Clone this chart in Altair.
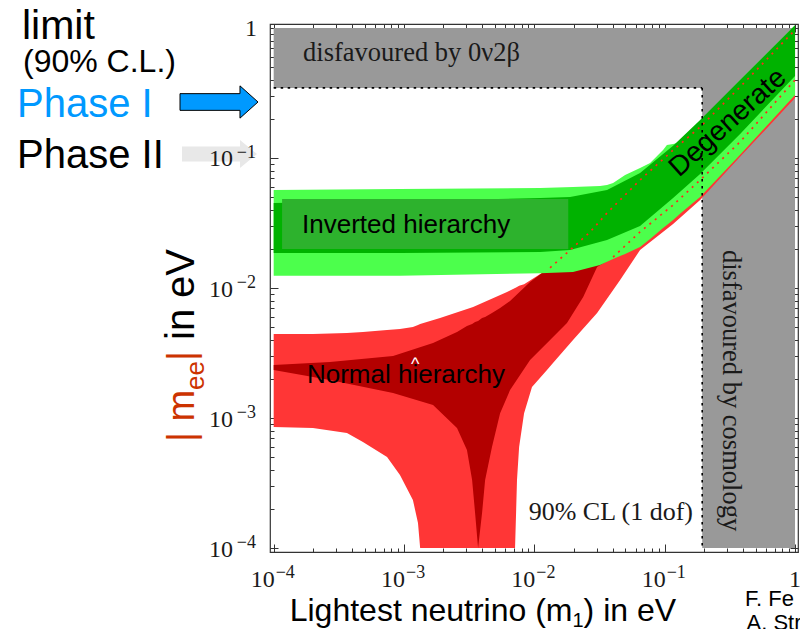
import altair as alt
import pandas as pd

# ---------------- data ----------------
# Normal hierarchy, light red (3 sigma) band
nh3_x = [1.0e-4, 2.0e-4, 3.65e-4, 4.84e-4, 7.41e-4, 9.31e-4, 1.17e-3, 1.28e-3, 1.33e-3, 1.89e-3,
         3.39e-3, 6.17e-3, 7.11e-3, 7.24e-3, 7.36e-3, 7.64e-3, 8.34e-3, 9.59e-3, 1.25e-2, 1.39e-2,
         1.98e-2, 3.03e-2, 4.55e-2, 6.47e-2, 0.116, 0.187, 0.379, 1.0]
nh3_hi = [4.43e-3, 4.43e-3, 4.51e-3, 4.59e-3, 4.75e-3, 4.84e-3, 5.01e-3, 5.19e-3, 5.28e-3, 5.88e-3,
          7.14e-3, 9.32e-3, 1.00e-2, 1.01e-2, 1.02e-2, 1.04e-2, 1.07e-2, 1.17e-2, 1.38e-2, 1.50e-2,
          2.03e-2, 3.11e-2, 4.75e-2, 6.77e-2, 0.115, 0.173, 0.352, 0.965]
nh3_lo = [8.53e-4, 8.38e-4, 7.66e-4, 6.54e-4, 5.01e-4, 3.64e-4, 2.34e-4, 1.56e-4, 1.0e-4, 1.0e-4,
          1.0e-4, 1.0e-4, 1.0e-4, 1.86e-4, 3.34e-4, 5.98e-4, 1.09e-3, 1.73e-3, 2.34e-3, 2.65e-3,
          3.98e-3, 6.42e-3, 1.15e-2, 1.96e-2, 3.11e-2, 4.75e-2, 0.102, 0.289]

# Normal hierarchy, dark red (best fit) band
nh1_x = [1.0e-4, 2.70e-4, 8.24e-4, 1.67e-3, 2.55e-3, 3.04e-3, 3.33e-3, 3.51e-3, 3.70e-3, 3.97e-3,
         4.19e-3, 4.73e-3, 5.46e-3, 6.51e-3, 9.27e-3, 1.32e-2, 1.78e-2, 2.37e-2, 3.03e-2, 4.32e-2,
         6.47e-2, 0.116, 0.187, 0.379, 1.0]
nh1_hi = [2.56e-3, 2.70e-3, 3.00e-3, 3.77e-3, 4.59e-3, 5.10e-3, 5.28e-3, 5.48e-3, 5.57e-3, 5.88e-3,
          5.98e-3, 6.42e-3, 7.02e-3, 7.94e-3, 1.11e-2, 1.45e-2, 1.86e-2, 2.42e-2, 3.11e-2, 4.51e-2,
          6.77e-2, 0.115, 0.173, 0.352, 0.965]
nh1_lo = [2.34e-3, 1.96e-3, 1.56e-3, 1.26e-3, 8.38e-4, 5.67e-4, 3.34e-4, 1.86e-4, 1.0e-4, 1.86e-4,
          3.34e-4, 5.98e-4, 1.09e-3, 1.64e-3, 2.79e-3, 3.98e-3, 5.38e-3, 8.53e-3, 1.45e-2, 1.79e-2,
          2.70e-2, 4.35e-2, 6.77e-2, 0.133, 0.398]

# Inverted hierarchy, light green (3 sigma) band
ih3_x = [1.0e-4, 9.31e-4, 1.11e-2, 1.98e-2, 3.19e-2, 3.61e-2, 4.02e-2, 4.97e-2, 6.47e-2, 7.73e-2,
         9.72e-2, 0.104, 0.116, 0.136, 0.187, 0.379, 1.0]
ih3_hi = [5.67e-2, 5.77e-2, 5.88e-2, 5.98e-2, 6.09e-2, 6.20e-2, 6.42e-2, 7.40e-2, 8.38e-2, 9.15e-2,
          0.115, 0.126, 0.128, 0.133, 0.189, 0.398, 1.05]
ih3_lo = [1.24e-2, 1.24e-2, 1.30e-2, 1.33e-2, 1.50e-2, 1.59e-2, 1.67e-2, 1.83e-2, 2.07e-2, 2.38e-2,
          2.89e-2, 3.05e-2, 3.34e-2, 3.84e-2, 5.01e-2, 0.106, 0.305]

# Inverted hierarchy, dark green (best fit) band
ih1_x = [1.0e-4, 9.31e-4, 1.11e-2, 1.88e-2, 3.61e-2, 6.47e-2, 0.116, 0.187, 0.379, 1.0]
ih1_hi = [4.51e-2, 4.67e-2, 4.92e-2, 5.01e-2, 5.67e-2, 7.66e-2, 0.124, 0.196, 0.398, 1.05]
ih1_lo = [1.86e-2, 1.86e-2, 1.89e-2, 1.96e-2, 2.34e-2, 3.00e-2, 4.92e-2, 7.53e-2, 0.153, 0.427]

# label box behind "Inverted hierarchy"
box_x = [1.16e-4, 1.82e-2]
box_y = [1.995e-2, 4.84e-2]

# red dotted boundaries drawn over the green band
dot_up_x = [1.32e-2, 1.88e-2, 2.68e-2, 3.61e-2, 6.47e-2, 0.116, 0.187, 0.379, 1.0]
dot_up_y = [1.43e-2, 1.96e-2, 2.70e-2, 3.77e-2, 6.77e-2, 0.115, 0.173, 0.352, 0.965]
dot_lo_x = [4.02e-2, 6.47e-2, 0.116, 0.187, 0.379, 1.0]
dot_lo_y = [1.73e-2, 2.70e-2, 4.35e-2, 6.77e-2, 0.133, 0.398]

# excluded regions
bb_limit = 0.346      # 0nu2beta bound on |m_ee|
cosmo_limit = 0.194   # cosmology bound on m1

# axis ticks / labels
major_ticks = [1e-4, 1e-3, 1e-2, 1e-1, 1.0]
minor_ticks = [m * 10.0 ** k for k in range(-4, 0) for m in range(2, 10)]
label_vals = [1e-4, 1e-3, 1e-2, 1e-1]
label_exps = ["\u22124", "\u22123", "\u22122", "\u22121"]

# ---------------- chart ----------------
W, H = 528, 528
xs = alt.Scale(type="log", domain=[9.37e-5, 1.054], nice=False)
ys = alt.Scale(type="log", domain=[9.32e-5, 1.073], nice=False)
SANS = "Liberation Sans"
SERIF = "Liberation Serif"
one = pd.DataFrame({"a": [0]})


def band(xv, lo, hi, color):
    df = pd.DataFrame({"x": xv, "lo": lo, "hi": hi})
    return alt.Chart(df).mark_area(color=color, opacity=1, clip=True).encode(
        x=alt.X("x:Q", scale=xs, axis=None),
        y=alt.Y("hi:Q", scale=ys, axis=None),
        y2="lo:Q",
    )


def rects(x1, x2, y1, y2, color):
    df = pd.DataFrame({"x1": x1, "x2": x2, "y1": y1, "y2": y2})
    return alt.Chart(df).mark_rect(color=color, opacity=1).encode(
        x=alt.X("x1:Q", scale=xs, axis=None), x2="x2:Q",
        y=alt.Y("y1:Q", scale=ys, axis=None), y2="y2:Q",
    )


def dotted(xv, yv):
    df = pd.DataFrame({"x": xv, "y": yv, "i": list(range(len(xv)))})
    return alt.Chart(df).mark_line(color="#ff2a1a", strokeDash=[2, 5], strokeWidth=1.7, clip=True).encode(
        x=alt.X("x:Q", scale=xs, axis=None),
        y=alt.Y("y:Q", scale=ys, axis=None),
        order="i:Q",
    )


def dtext(x, y, s, **kw):
    df = pd.DataFrame({"x": [x], "y": [y], "t": [s]})
    return alt.Chart(df).mark_text(**kw).encode(
        x=alt.X("x:Q", scale=xs, axis=None),
        y=alt.Y("y:Q", scale=ys, axis=None),
        text="t:N",
    )


def ptext(px, py, s, **kw):
    return alt.Chart(one).mark_text(**kw).encode(
        x=alt.value(px), y=alt.value(py), text=alt.value(s))


def xtick_layer(vals, orient, size):
    df = pd.DataFrame({"v": vals})
    return alt.Chart(df).mark_point(opacity=0).encode(
        x=alt.X("v:Q", scale=xs, axis=alt.Axis(
            orient=orient, values=vals, labels=False, domain=False, grid=False,
            ticks=True, tickSize=size, offset=-size, tickColor="#333", tickWidth=1, title=None)))


def ytick_layer(vals, orient, size):
    df = pd.DataFrame({"v": vals})
    return alt.Chart(df).mark_point(opacity=0).encode(
        y=alt.Y("v:Q", scale=ys, axis=alt.Axis(
            orient=orient, values=vals, labels=False, domain=False, grid=False,
            ticks=True, tickSize=size, offset=-size, tickColor="#333", tickWidth=1, title=None)))


gray = rects([1e-4, cosmo_limit], [1.0, 1.0], [bb_limit, 1e-4], [1.0, 1.0], "#999999")
nh3 = band(nh3_x, nh3_lo, nh3_hi, "#ff3636")
nh1 = band(nh1_x, nh1_lo, nh1_hi, "#b30000")
ih3 = band(ih3_x, ih3_lo, ih3_hi, "#4cff4c")
ih1 = band(ih1_x, ih1_lo, ih1_hi, "#00b200")
box = rects([box_x[0]], [box_x[1]], [box_y[0]], [box_y[1]], "#2db22d")
dots = dotted(dot_up_x, dot_up_y) + dotted(dot_lo_x, dot_lo_y)

lim_df = pd.DataFrame({"x1": [1e-4, cosmo_limit], "x2": [cosmo_limit, cosmo_limit],
                       "y1": [bb_limit, bb_limit], "y2": [bb_limit, 1e-4]})
limits = alt.Chart(lim_df).mark_rule(color="black", strokeDash=[2.5, 4.5], strokeWidth=1.6).encode(
    x=alt.X("x1:Q", scale=xs, axis=None), x2="x2:Q",
    y=alt.Y("y1:Q", scale=ys, axis=None), y2="y2:Q")

inner_text = [
    dtext(1.68e-4, 0.557, "disfavoured by 0\u03bd2\u03b2", font=SERIF, fontSize=26.5, color="#1a1a1a",
          align="left", baseline="alphabetic"),
    dtext(0.281, 1.96e-2, "disfavoured by cosmology", font=SERIF, fontSize=26.5, color="#1a1a1a",
          align="left", baseline="alphabetic", angle=90),
    dtext(0.165, 1.64e-4, "90% CL (1 dof)", font=SERIF, fontSize=26, color="#1a1a1a",
          align="right", baseline="alphabetic"),
    dtext(1.65e-4, 2.65e-2, "Inverted hierarchy", font=SANS, fontSize=26, color="black",
          align="left", baseline="alphabetic"),
    dtext(1.22e-3, 2.36e-3, "^", font=SANS, fontSize=18, color="white",
          align="center", baseline="alphabetic"),
    dtext(1.80e-4, 1.86e-3, "Normal hierarchy", font=SANS, fontSize=26, color="black",
          align="left", baseline="alphabetic"),
    dtext(0.306, 0.186, "Degenerate", font=SANS, fontSize=28, color="black",
          align="center", baseline="middle", angle=318),
]

ticks = [
    xtick_layer(major_ticks, "bottom", 8), xtick_layer(minor_ticks, "bottom", 4),
    xtick_layer(major_ticks, "top", 8), xtick_layer(minor_ticks, "top", 4),
    ytick_layer(major_ticks, "left", 8), ytick_layer(minor_ticks, "left", 4),
    ytick_layer(major_ticks, "right", 8), ytick_layer(minor_ticks, "right", 4),
]

ARROW_BLUE = "M -1 -0.214 L 0.538 -0.214 L 0.538 -0.414 L 1 0 L 0.538 0.414 L 0.538 0.214 L -1 0.214 Z"
ARROW_GRAY = "M -1 -0.2 L 0.547 -0.2 L 0.547 -0.373 L 1 0 L 0.547 0.373 L 0.547 0.2 L -1 0.2 Z"
arrows = [
    alt.Chart(one).mark_point(shape=ARROW_BLUE, size=6084, filled=True, fill="#0099ff", stroke="black",
                              strokeWidth=1, opacity=1, fillOpacity=1).encode(x=alt.value(-51), y=alt.value(78)),
    alt.Chart(one).mark_point(shape=ARROW_GRAY, size=5625, filled=True, fill="#e8e8e8", strokeWidth=0,
                              opacity=1, fillOpacity=1).encode(x=alt.value(-50.5), y=alt.value(130)),
]

lab_df = pd.DataFrame({"v": label_vals, "e": label_exps})
xbase = alt.Chart(lab_df).encode(x=alt.X("v:Q", scale=xs, axis=None))
ybase = alt.Chart(lab_df).encode(y=alt.Y("v:Q", scale=ys, axis=None))
one_df = pd.DataFrame({"v": [1.0]})
labels = [
    xbase.mark_text(font=SERIF, fontSize=24, color="#1a1a1a", align="right", baseline="alphabetic", dx=1)
         .encode(y=alt.value(H + 35), text=alt.value("10")),
    xbase.mark_text(font=SERIF, fontSize=18, color="#1a1a1a", align="left", baseline="alphabetic", dx=2)
         .encode(y=alt.value(H + 26), text="e:N"),
    alt.Chart(one_df).mark_text(font=SERIF, fontSize=24, color="#1a1a1a", align="center", baseline="alphabetic")
         .encode(x=alt.X("v:Q", scale=xs, axis=None), y=alt.value(H + 35), text=alt.value("1")),
    ybase.mark_text(font=SERIF, fontSize=24, color="#1a1a1a", align="right", baseline="alphabetic", dy=8.5)
         .encode(x=alt.value(-37), text=alt.value("10")),
    ybase.mark_text(font=SERIF, fontSize=18, color="#1a1a1a", align="right", baseline="alphabetic", dy=0)
         .encode(x=alt.value(-14), text="e:N"),
    alt.Chart(one_df).mark_text(font=SERIF, fontSize=24, color="#1a1a1a", align="right", baseline="alphabetic", dy=8)
         .encode(y=alt.Y("v:Q", scale=ys, axis=None), x=alt.value(-13), text=alt.value("1")),
]

ORANGE = "#cc3300"
titles = [
    # y title, rotated
    ptext(-76, 418, "| m", font=SANS, fontSize=38, color=ORANGE, angle=270, align="left", baseline="alphabetic"),
    ptext(-66, 366, "ee", font=SANS, fontSize=26, color=ORANGE, angle=270, align="left", baseline="alphabetic"),
    ptext(-76, 337, "|", font=SANS, fontSize=38, color=ORANGE, angle=270, align="left", baseline="alphabetic"),
    ptext(-76, 316, "in", font=SANS, fontSize=40, color="black", angle=270, align="left", baseline="alphabetic"),
    ptext(-76, 274, "eV", font=SANS, fontSize=40, color="black", angle=270, align="left", baseline="alphabetic"),
    # x title
    ptext(19.7, 597, "Lightest neutrino (m", font=SANS, fontSize=32, color="black", align="left", baseline="alphabetic"),
    ptext(302.5, 602.5, "1", font=SANS, fontSize=20, color="black", align="left", baseline="alphabetic"),
    ptext(313.6, 597, ") in eV", font=SANS, fontSize=32, color="black", align="left", baseline="alphabetic"),
    # left annotations
    ptext(-248, 15, "limit", font=SANS, fontSize=41, color="black", align="left", baseline="alphabetic"),
    ptext(-247, 48, "(90% C.L.)", font=SANS, fontSize=32, color="black", align="left", baseline="alphabetic"),
    ptext(-253, 92.7, "Phase I", font=SANS, fontSize=40, color="#0099ff", align="left", baseline="alphabetic"),
    ptext(-253, 144.3, "Phase II", font=SANS, fontSize=40, color="black", align="left", baseline="alphabetic"),
    # credit
    ptext(475, 582, "F. Fe", font=SANS, fontSize=22, color="black", align="left", baseline="alphabetic"),
    ptext(476.5, 606, "A. Str", font=SANS, fontSize=22, color="black", align="left", baseline="alphabetic"),
]

layers = [gray, nh3, nh1, ih3, ih1, box, dots, limits] + inner_text + ticks + arrows + labels + titles

chart = alt.layer(*layers).properties(
    width=W, height=H,
    padding={"left": 262, "top": 16, "right": 2, "bottom": 77},
    autosize=alt.AutoSizeParams(type="none"),
).resolve_axis(x="independent", y="independent").configure_view(stroke="#333", strokeWidth=1.2)

chart.save("out.html", embed_options={"renderer": "svg", "actions": False})
